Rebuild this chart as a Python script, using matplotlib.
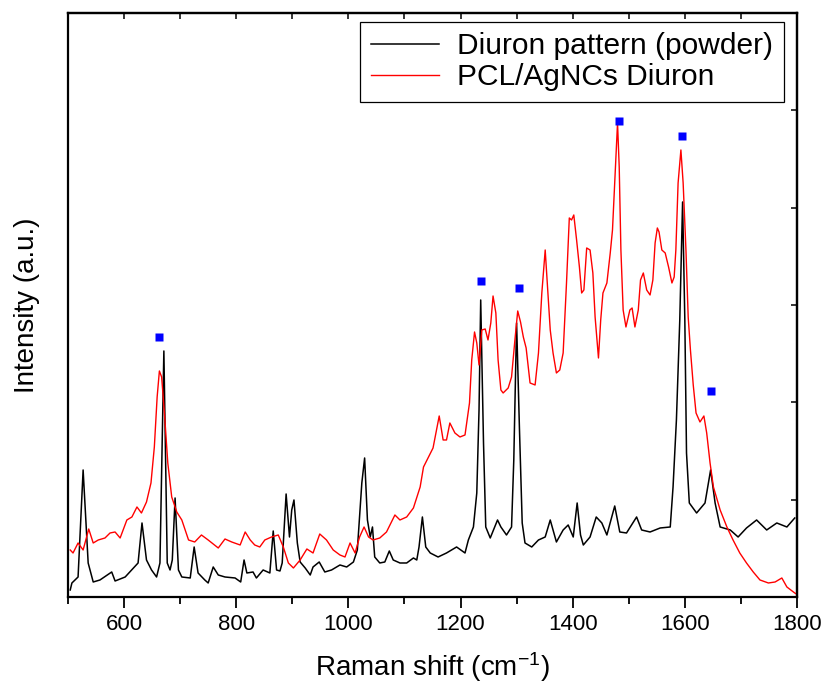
import matplotlib
matplotlib.use('Agg')
from matplotlib import pyplot as plt
import numpy as np

plt.rcParams['font.family'] = ['Liberation Sans', 'DejaVu Sans']
plt.rcParams['mathtext.default'] = 'regular'

# Diuron pattern (powder) - black spectrum
shift_powder = [504, 507, 518, 527, 536, 545, 557, 578, 584, 602, 625, 632, 640, 649, 658,
                664, 671, 677, 682, 686, 691, 697, 703, 718, 725, 732, 744, 750, 759, 768,
                780, 798, 808, 814, 819, 830, 836, 848, 860, 866, 872, 878, 882, 889, 895,
                899, 903, 909, 914, 923, 932, 937, 948, 958, 970, 985, 997, 1009, 1016, 1024,
                1029, 1034, 1039, 1043, 1047, 1056, 1065, 1073, 1080, 1092, 1104, 1116, 1122, 1126, 1132,
                1138, 1146, 1160, 1175, 1193, 1208, 1214, 1223, 1229, 1233, 1236, 1241, 1245, 1253, 1261,
                1266, 1272, 1282, 1291, 1295, 1300, 1305, 1310, 1315, 1327, 1339, 1351, 1360, 1371, 1383,
                1392, 1401, 1408, 1414, 1419, 1431, 1442, 1452, 1461, 1475, 1484, 1496, 1514, 1523, 1538,
                1556, 1574, 1579, 1585, 1591, 1596, 1600, 1603, 1608, 1621, 1636, 1646, 1654, 1663, 1681,
                1695, 1710, 1728, 1746, 1764, 1782, 1796]
int_powder = [7, 14, 20, 127, 34, 15, 17, 25, 16, 20, 34, 74, 37, 27, 20,
              34, 246, 34, 27, 37, 99, 27, 20, 19, 50, 24, 17, 14, 30, 22,
              20, 19, 15, 37, 24, 25, 19, 27, 24, 66, 27, 26, 34, 103, 60,
              87, 97, 54, 35, 29, 22, 30, 35, 25, 27, 32, 30, 35, 47, 114,
              139, 77, 60, 70, 40, 34, 35, 46, 37, 34, 34, 39, 37, 50, 80,
              50, 44, 40, 44, 50, 44, 57, 70, 104, 187, 297, 154, 70, 59, 70,
              77, 70, 62, 70, 137, 274, 170, 74, 54, 50, 57, 60, 77, 55, 67,
              72, 60, 94, 62, 52, 60, 80, 74, 62, 91, 65, 64, 80, 67, 65,
              69, 70, 110, 177, 277, 395, 277, 144, 94, 84, 94, 127, 94, 70, 67,
              60, 69, 77, 67, 74, 70, 79]

# PCL/AgNCs Diuron - red spectrum
shift_pcl = [504, 509, 518, 527, 537, 545, 554, 566, 575, 584, 593, 605, 614, 623, 631,
             640, 648, 654, 659, 663, 667, 672, 678, 685, 694, 703, 715, 726, 738, 750,
             768, 780, 792, 807, 816, 825, 833, 842, 851, 863, 875, 884, 893, 902, 914,
             926, 937, 949, 961, 973, 985, 994, 1003, 1012, 1020, 1028, 1036, 1044, 1056, 1068,
             1083, 1092, 1104, 1116, 1128, 1134, 1143, 1151, 1162, 1169, 1175, 1181, 1190, 1199, 1208,
             1216, 1220, 1225, 1229, 1233, 1238, 1244, 1249, 1254, 1258, 1263, 1267, 1272, 1276, 1285,
             1291, 1297, 1302, 1307, 1312, 1317, 1324, 1333, 1339, 1345, 1351, 1360, 1365, 1371, 1377,
             1383, 1389, 1394, 1398, 1402, 1407, 1412, 1416, 1420, 1425, 1431, 1436, 1440, 1446, 1450,
             1454, 1461, 1467, 1471, 1475, 1480, 1483, 1486, 1490, 1495, 1502, 1506, 1511, 1517, 1521,
             1526, 1532, 1538, 1543, 1547, 1551, 1554, 1559, 1565, 1571, 1577, 1581, 1584, 1588, 1593,
             1597, 1602, 1606, 1610, 1615, 1620, 1627, 1634, 1639, 1645, 1651, 1663, 1675, 1686, 1698,
             1710, 1722, 1734, 1749, 1761, 1773, 1782, 1796, 1799]
int_pcl = [47, 44, 54, 47, 68, 54, 57, 59, 64, 65, 59, 77, 80, 90, 84,
           95, 114, 150, 200, 226, 220, 184, 134, 100, 85, 77, 57, 55, 62, 57,
           49, 58, 55, 52, 65, 57, 52, 50, 57, 60, 62, 50, 34, 29, 37,
           48, 44, 63, 57, 47, 42, 40, 54, 44, 60, 70, 60, 57, 59, 65,
           82, 77, 80, 89, 110, 130, 140, 149, 181, 157, 157, 174, 164, 160, 162,
           194, 237, 265, 254, 232, 267, 268, 257, 274, 301, 284, 237, 207, 204, 209,
           220, 257, 286, 275, 260, 249, 214, 212, 244, 304, 347, 267, 244, 224, 227,
           244, 314, 379, 377, 382, 357, 330, 304, 307, 349, 347, 324, 280, 239, 277,
           304, 314, 344, 367, 414, 474, 430, 347, 287, 270, 287, 289, 270, 287, 317,
           324, 307, 302, 317, 354, 369, 365, 347, 344, 330, 314, 320, 347, 414, 447,
           414, 347, 280, 247, 212, 184, 175, 181, 164, 134, 110, 87, 70, 57, 44,
           34, 25, 17, 14, 15, 19, 10, 4, 3]

# marked bands
mark_shift = [662, 1236, 1304, 1483, 1595, 1647]
mark_int = [260, 316, 309, 476, 461, 206]

fig = plt.figure(figsize=(8.27, 6.90), dpi=100)
ax = fig.add_axes([0.0822, 0.1348, 0.8815, 0.8464])

ax.plot(shift_powder, int_powder, color='black', lw=1.1, label='Diuron pattern (powder)')
ax.plot(shift_pcl, int_pcl, color='red', lw=1.0, label='PCL/AgNCs Diuron')
ax.plot(mark_shift, mark_int, 's', color='#0000ff', ms=5.8, mec='none')

ax.set_xlim(500, 1800)
ax.set_ylim(0, 584)
ax.set_xticks(np.arange(600, 1801, 200))
ax.set_xticks(np.arange(500, 1801, 100), minor=True)
ax.set_yticks([])
ax.tick_params(axis='x', which='major', direction='out', length=8, width=1.3, labelsize=16, pad=4)
ax.tick_params(axis='x', which='minor', direction='out', length=5, width=1.3)
for s in ax.spines.values():
    s.set_linewidth(1.6)

# inward ticks on top and right frame
top = ax.secondary_xaxis('top')
top.set_xticks(np.arange(500, 1801, 100))
top.tick_params(direction='in', length=4, width=1.1, labeltop=False)
top.spines['top'].set_linewidth(1.6)
right = ax.secondary_yaxis('right')
right.set_yticks(np.linspace(0, 584, 7))
right.tick_params(direction='in', length=4, width=1.1, labelright=False)
right.spines['right'].set_linewidth(1.6)

ax.set_xlabel('Raman shift (cm$^{-1}$)', fontsize=20, labelpad=11)
ax.set_ylabel('Intensity (a.u.)', fontsize=20, labelpad=20)

leg = ax.legend(loc='upper right', bbox_to_anchor=(0.982, 0.985), borderaxespad=0,
                fontsize=21.5, handlelength=2.3, handletextpad=0.6, labelspacing=0.1,
                borderpad=0.35, fancybox=False, framealpha=1, edgecolor='black')
leg.get_frame().set_linewidth(0.9)

fig.savefig('out.png', dpi=100)
